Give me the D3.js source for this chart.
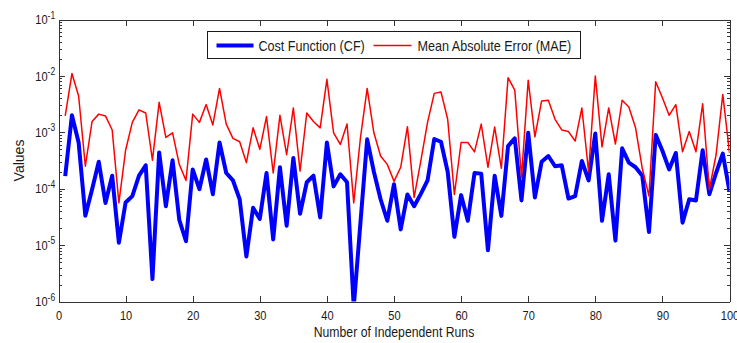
<!DOCTYPE html>
<meta charset="utf-8">
<style>
  body { margin: 0; background: #fff; }
  svg text { font-family: Arial, "Liberation Sans", sans-serif; fill: #1a1a1a; }
  .axis path, .axis line { stroke: #333; stroke-width: 1; shape-rendering: crispEdges; }
  .series { fill: none; stroke-linejoin: round; }
</style>
<body>
<script src="https://cdnjs.cloudflare.com/ajax/libs/d3/7.8.5/d3.min.js"></script>
<script>

// run index 1..100
var runs = d3.range(1, 101);

var costFunction = [
  1.67e-4, 2.0e-3, 6.6e-4, 3.3e-5, 9.7e-5, 3.0e-4, 5.6e-5, 1.7e-4, 1.1e-5, 5.7e-5,
  7.4e-5, 1.7e-4, 2.6e-4, 2.5e-6, 4.4e-4, 4.9e-5, 3.2e-4, 2.8e-5, 1.17e-5, 2.2e-4,
  9.8e-5, 3.3e-4, 8.0e-5, 6.6e-4, 1.9e-4, 1.4e-4, 6.5e-5, 6.3e-6, 4.6e-5, 2.9e-5,
  1.9e-4, 1.26e-5, 2.4e-4, 2.2e-5, 3.5e-4, 3.6e-5, 1.3e-4, 1.7e-4, 3.1e-5, 6.6e-4,
  1.1e-4, 1.8e-4, 1.3e-4, 8.0e-7, 2.5e-5, 7.5e-4, 2.0e-4, 6.5e-5, 2.7e-5, 1.2e-4,
  1.9e-5, 7.9e-5, 4.9e-5, 8.1e-5, 1.4e-4, 7.6e-4, 6.8e-4, 2.0e-4, 1.4e-5, 7.7e-5,
  2.7e-5, 1.9e-4, 1.85e-4, 8.1e-6, 1.7e-4, 3.3e-5, 5.7e-4, 7.8e-4, 6.2e-5, 9.8e-4,
  7.0e-5, 3.0e-4, 3.8e-4, 2.5e-4, 2.6e-4, 6.7e-5, 7.4e-5, 3.1e-4, 1.4e-4, 9.5e-4,
  2.7e-5, 1.8e-4, 1.2e-5, 5.2e-4, 2.9e-4, 2.4e-4, 1.7e-4, 1.7e-5, 9.0e-4, 4.7e-4,
  2.2e-4, 4.3e-4, 2.5e-5, 6.5e-5, 6.2e-5, 4.8e-4, 8.0e-5, 1.9e-4, 4.2e-4, 9.0e-5
];

var meanAbsError = [
  1.95e-3, 1.1e-2, 4.4e-3, 2.5e-4, 1.55e-3, 2.1e-3, 1.95e-3, 1.1e-3, 5.6e-5, 4.8e-4,
  1.5e-3, 2.5e-3, 2.2e-3, 3.2e-4, 3.4e-3, 8.1e-4, 9.8e-4, 2.7e-4, 1.4e-4, 2.1e-3,
  1.5e-3, 3.1e-3, 1.35e-3, 6.0e-3, 1.4e-3, 7.8e-4, 6.8e-4, 2.9e-4, 1.2e-3, 5.0e-4,
  1.9e-3, 1.9e-4, 2.0e-3, 4.0e-4, 2.7e-3, 2.05e-4, 2.2e-3, 1.55e-3, 1.2e-3, 8.7e-3,
  9.8e-4, 6.1e-4, 1.4e-3, 5.6e-5, 8.0e-4, 6.0e-3, 9.8e-4, 3.8e-4, 2.7e-4, 1.35e-4,
  2.4e-4, 1.26e-3, 7.0e-5, 3.1e-4, 1.5e-3, 4.9e-3, 5.2e-3, 1.7e-3, 7.9e-5, 6.6e-4,
  6.6e-4, 4.5e-4, 1.4e-3, 2.4e-4, 1.24e-3, 2.3e-4, 9.3e-3, 5.6e-3, 1.6e-4, 8.4e-3,
  8.3e-4, 3.6e-3, 3.7e-3, 1.7e-3, 1.1e-3, 1.03e-3, 7.0e-4, 2.7e-3, 2.0e-4, 1.0e-2,
  5.5e-4, 2.7e-3, 6.2e-4, 3.7e-3, 2.8e-3, 1.2e-3, 2.3e-4, 7.4e-5, 7.9e-3, 4.1e-3,
  2.0e-3, 3.1e-3, 4.5e-4, 1.03e-3, 4.5e-4, 3.2e-3, 9.7e-5, 4.0e-4, 4.7e-3, 4.3e-4
];

var xTicks = [0, 10, 20, 30, 40, 50, 60, 70, 80, 90, 100];
var yTicks = [1e-6, 1e-5, 1e-4, 1e-3, 1e-2, 1e-1];
var seriesNames = ["Cost Function (CF)", "Mean Absolute Error (MAE)"];
var seriesColors = ["#0000ff", "#ff0000"];
var seriesWidths = [4, 1.5];

var width = 737, height = 343;
var margin = {top: 19.5, right: 7.5, bottom: 41.5, left: 58.5};
var w = width - margin.left - margin.right,
    h = height - margin.top - margin.bottom;

// minor ticks 2..9 in each decade
var yMinor = [];
yTicks.slice(0, -1).forEach(function(p) {
  for (var k = 2; k <= 9; k++) yMinor.push(k * p);
});

var svg = d3.select("body").append("svg")
    .attr("width", width)
    .attr("height", height);

var g = svg.append("g")
    .attr("transform", "translate(" + margin.left + "," + margin.top + ")");

var x = d3.scaleLinear().domain([0, 100]).range([0, w]);
var y = d3.scaleLog().domain([1e-6, 1e-1]).range([h, 0]);

g.append("clipPath").attr("id", "clip")
  .append("rect").attr("width", w).attr("height", h);

/*
** axes (matlab style box, ticks pointing inward)
*/
var xAxis = g.append("g").attr("class", "axis")
    .attr("transform", "translate(0," + h + ")")
    .call(d3.axisBottom(x).tickValues(xTicks).tickSizeInner(-6).tickSizeOuter(0).tickPadding(9));

xAxis.selectAll("text")
    .style("font-size", "13px")
    .attr("transform", "scale(0.85,1)");

g.append("g").attr("class", "axis")
    .call(d3.axisTop(x).tickValues(xTicks).tickSizeInner(-6).tickSizeOuter(0).tickFormat(""));

var yAxis = g.append("g").attr("class", "axis")
    .call(d3.axisLeft(y).tickValues(yTicks).tickSizeInner(-6).tickSizeOuter(0).tickPadding(4));

yAxis.selectAll(".tick text").each(function(d) {
  var t = d3.select(this).text(null)
      .style("font-size", "13px")
      .attr("transform", "scale(0.85,1)");
  t.append("tspan").text("10");
  t.append("tspan").attr("dy", "-0.55em").style("font-size", "10px")
    .text(Math.round(Math.log10(d)));
});

g.append("g").attr("class", "axis")
    .call(d3.axisLeft(y).tickValues(yMinor).tickSizeInner(-3).tickSizeOuter(0).tickFormat(""));

g.append("g").attr("class", "axis")
    .attr("transform", "translate(" + w + ",0)")
    .call(d3.axisRight(y).tickValues(yTicks).tickSizeInner(-6).tickSizeOuter(0).tickFormat(""));

g.append("g").attr("class", "axis")
    .attr("transform", "translate(" + w + ",0)")
    .call(d3.axisRight(y).tickValues(yMinor).tickSizeInner(-3).tickSizeOuter(0).tickFormat(""));

/*
** the two series
*/
var line = d3.line()
    .x(function(d) { return x(d[0]); })
    .y(function(d) { return y(d[1]); });

[costFunction, meanAbsError].forEach(function(vals, i) {
  g.append("path")
      .datum(runs.map(function(r, j) { return [r, vals[j]]; }))
      .attr("class", "series")
      .attr("clip-path", "url(#clip)")
      .attr("stroke", seriesColors[i])
      .attr("stroke-width", seriesWidths[i])
      .attr("d", line);
});

/*
** axis labels
*/
svg.append("text")
    .attr("transform", "translate(" + (margin.left + w / 2) + ",337) scale(0.875,1)")
    .attr("text-anchor", "middle")
    .style("font-size", "14px")
    .text("Number of Independent Runs");

svg.append("text")
    .attr("transform", "translate(24," + (margin.top + h / 2) + ") rotate(-90)")
    .attr("text-anchor", "middle")
    .style("font-size", "14px")
    .text("Values");

/*
** legend
*/
var legend = svg.append("g").attr("transform", "translate(207.5,31.5)");

legend.append("rect")
    .attr("width", 373)
    .attr("height", 27)
    .attr("fill", "#fff")
    .attr("stroke", "#1a1a1a")
    .attr("stroke-width", 1);

var itemX = [[9, 46, 51], [166, 204, 210]];

seriesNames.forEach(function(name, i) {
  legend.append("line")
      .attr("x1", itemX[i][0]).attr("x2", itemX[i][1])
      .attr("y1", 14).attr("y2", 14)
      .attr("stroke", seriesColors[i])
      .attr("stroke-width", seriesWidths[i]);
  legend.append("text")
      .attr("transform", "translate(" + itemX[i][2] + ",14) scale(0.9,1)")
      .attr("dy", "0.36em")
      .style("font-size", "14px")
      .text(name);
});

</script>
</body>
</html>
